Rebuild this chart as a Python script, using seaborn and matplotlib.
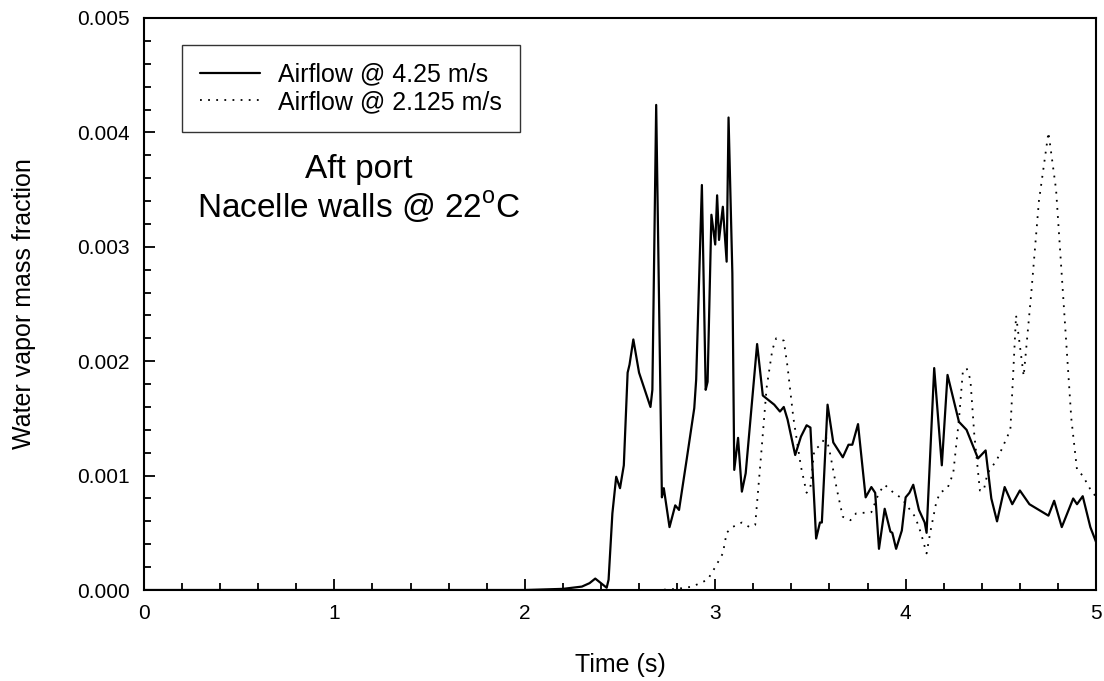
import pandas as pd
import seaborn as sns
import matplotlib.pyplot as plt
from matplotlib.ticker import MultipleLocator

# Water vapor mass fraction vs time, aft port

# 4.25 m/s airflow (solid)
t_fast = [0.0, 0.5, 1.0, 1.5, 2.0, 2.2, 2.3, 2.34, 2.37, 2.40, 2.43, 2.44,
          2.46, 2.48, 2.50, 2.52, 2.54, 2.55, 2.57, 2.60, 2.66, 2.67, 2.69,
          2.72, 2.73, 2.76, 2.79, 2.81, 2.85, 2.89, 2.90, 2.93, 2.95, 2.96,
          2.98, 3.00, 3.01, 3.02, 3.04, 3.06, 3.07, 3.09, 3.10, 3.12, 3.14,
          3.16, 3.22, 3.25, 3.31, 3.34, 3.36, 3.38, 3.42, 3.45, 3.48, 3.50,
          3.53, 3.55, 3.56, 3.59, 3.62, 3.67, 3.70, 3.72, 3.75, 3.79, 3.82,
          3.84, 3.86, 3.89, 3.92, 3.93, 3.95, 3.98, 4.00, 4.02, 4.04, 4.07,
          4.10, 4.11, 4.15, 4.19, 4.22, 4.28, 4.32, 4.38, 4.42, 4.45, 4.48,
          4.52, 4.56, 4.60, 4.65, 4.70, 4.75, 4.78, 4.82, 4.88, 4.90, 4.93,
          4.97, 5.0]
v_fast = [0.0, 0.0, 0.0, 0.0, 0.0, 0.01, 0.03, 0.06, 0.10, 0.06, 0.02, 0.09,
          0.67, 0.99, 0.89, 1.09, 1.90, 1.97, 2.19, 1.90, 1.60, 1.75, 4.24,
          0.81, 0.89, 0.55, 0.74, 0.70, 1.14, 1.59, 1.84, 3.54, 1.75, 1.82,
          3.28, 3.02, 3.45, 3.06, 3.35, 2.87, 4.13, 2.77, 1.05, 1.33, 0.86,
          1.02, 2.15, 1.70, 1.62, 1.56, 1.60, 1.49, 1.18, 1.34, 1.44, 1.42,
          0.45, 0.59, 0.59, 1.62, 1.29, 1.16, 1.27, 1.27, 1.45, 0.81, 0.90,
          0.85, 0.36, 0.71, 0.51, 0.50, 0.36, 0.52, 0.81, 0.85, 0.92, 0.70,
          0.59, 0.50, 1.94, 1.09, 1.88, 1.47, 1.40, 1.15, 1.22, 0.80, 0.60,
          0.90, 0.75, 0.87, 0.75, 0.70, 0.65, 0.78, 0.55, 0.80, 0.75, 0.82,
          0.55, 0.42]

# 2.125 m/s airflow (dotted)
t_slow = [0.0, 0.5, 1.0, 1.5, 2.0, 2.5, 2.7, 2.8, 2.88, 2.92, 2.96, 3.00,
          3.04, 3.06, 3.09, 3.14, 3.18, 3.21, 3.24, 3.27, 3.30, 3.32, 3.36,
          3.38, 3.41, 3.45, 3.48, 3.50, 3.52, 3.56, 3.58, 3.60, 3.64, 3.67,
          3.71, 3.74, 3.82, 3.86, 3.89, 3.93, 3.98, 4.01, 4.05, 4.08, 4.11,
          4.13, 4.16, 4.18, 4.22, 4.25, 4.28, 4.30, 4.32, 4.34, 4.36, 4.39,
          4.41, 4.43, 4.48, 4.55, 4.58, 4.62, 4.66, 4.70, 4.75, 4.79, 4.83,
          4.87, 4.90, 4.93, 4.98, 5.0]
v_slow = [0.0, 0.0, 0.0, 0.0, 0.0, 0.0, 0.0, 0.01, 0.03, 0.06, 0.09, 0.20,
          0.32, 0.50, 0.55, 0.59, 0.55, 0.57, 1.16, 1.77, 2.10, 2.20, 2.18,
          1.95, 1.51, 1.08, 0.85, 0.90, 1.22, 1.28, 1.35, 1.22, 0.87, 0.64,
          0.61, 0.67, 0.68, 0.85, 0.92, 0.86, 0.80, 0.73, 0.64, 0.50, 0.32,
          0.51, 0.76, 0.85, 0.89, 1.02, 1.49, 1.90, 1.94, 1.84, 1.37, 0.87,
          0.87, 1.02, 1.14, 1.40, 2.40, 1.87, 2.60, 3.40, 4.00, 3.50, 2.50,
          1.50, 1.05, 1.00, 0.85, 0.82]

fast = pd.DataFrame({'t': t_fast, 'v': [x / 1000 for x in v_fast]})
slow = pd.DataFrame({'t': t_slow, 'v': [x / 1000 for x in v_slow]})

sns.set_style('ticks')
plt.rcParams['font.family'] = ['Liberation Sans', 'DejaVu Sans']
plt.rcParams['mathtext.fontset'] = 'custom'
plt.rcParams['mathtext.rm'] = 'Liberation Sans'
plt.rcParams['text.color'] = 'black'
plt.rcParams['axes.labelcolor'] = 'black'

fig = plt.figure(figsize=(11.04, 6.81), dpi=100)
ax = fig.add_axes([0.1304, 0.1336, 0.8624, 0.8400])

sns.lineplot(data=fast, x='t', y='v', ax=ax, color='black', lw=1.6,
             label='Airflow @ 4.25 m/s')
sns.lineplot(data=slow, x='t', y='v', ax=ax, color='black', lw=1.3,
             linestyle=(0, (1, 3.5)), label='Airflow @ 2.125 m/s')

ax.set_xlim(0, 5)
ax.set_ylim(0, 0.005)
ax.xaxis.set_major_locator(MultipleLocator(1))
ax.xaxis.set_minor_locator(MultipleLocator(0.2))
ax.yaxis.set_major_locator(MultipleLocator(0.001))
ax.yaxis.set_minor_locator(MultipleLocator(0.0002))
ax.yaxis.set_major_formatter(plt.FormatStrFormatter('%.3f'))
ax.tick_params(which='both', direction='in', labelsize=15, width=1.3,
               color='black', labelcolor='black')
ax.tick_params(which='major', length=8, pad=10)
ax.tick_params(which='minor', length=5)
for s in ax.spines.values():
    s.set_linewidth(1.5)
    s.set_color('black')

ax.set_xlabel('Time (s)', fontsize=18, labelpad=22)
ax.set_ylabel('Water vapor mass fraction', fontsize=18, labelpad=30)

leg = ax.legend(loc='upper left', bbox_to_anchor=(0.04, 0.953), fontsize=18,
                frameon=True, fancybox=False, edgecolor='black',
                handlelength=2.4, handletextpad=0.75, borderpad=0.7,
                labelspacing=0.15, borderaxespad=0)
leg.get_frame().set_linewidth(1.0)

ax.text(0.226, 0.70, 'Aft port\nNacelle walls @ 22$^\\mathrm{o}$C',
        transform=ax.transAxes, ha='center', va='center', fontsize=24,
        linespacing=1.15)

fig.savefig('out.png', dpi=100)
